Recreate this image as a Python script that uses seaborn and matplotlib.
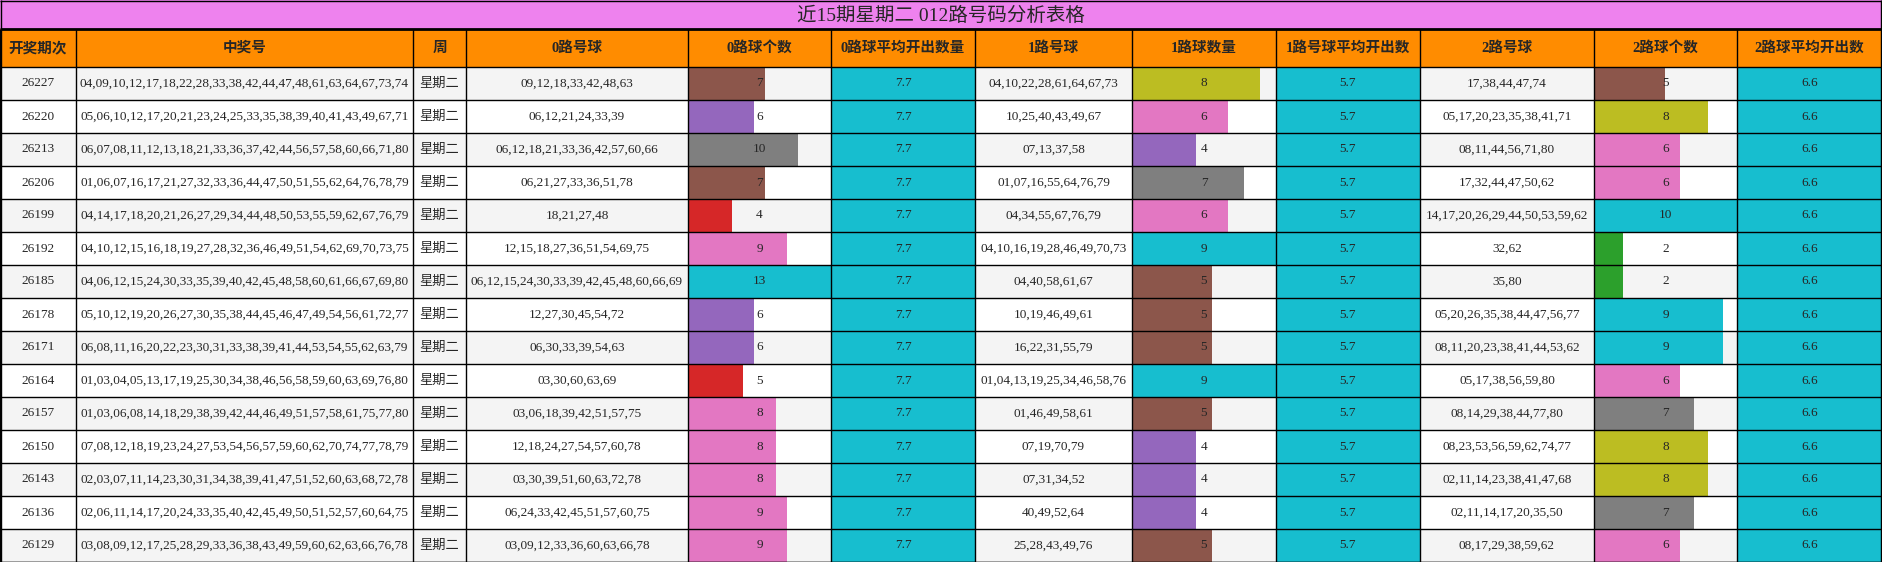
import matplotlib.pyplot as plt
import seaborn as sns
from matplotlib.patches import Rectangle

sns.set_theme(style="white")
plt.rcParams["font.family"] = ["Liberation Serif", "Noto Sans CJK SC", "DejaVu Sans"]

title = "近15期星期二 012路号码分析表格"
headers = ["开奖期次", "中奖号", "周", "0路号球", "0路球个数", "0路球平均开出数量",
           "1路号球", "1路球数量", "1路号球平均开出数", "2路号球", "2路球个数", "2路球平均开出数"]

issues = ["26227", "26220", "26213", "26206", "26199", "26192", "26185", "26178",
          "26171", "26164", "26157", "26150", "26143", "26136", "26129"]
draws = [
    "04,09,10,12,17,18,22,28,33,38,42,44,47,48,61,63,64,67,73,74",
    "05,06,10,12,17,20,21,23,24,25,33,35,38,39,40,41,43,49,67,71",
    "06,07,08,11,12,13,18,21,33,36,37,42,44,56,57,58,60,66,71,80",
    "01,06,07,16,17,21,27,32,33,36,44,47,50,51,55,62,64,76,78,79",
    "04,14,17,18,20,21,26,27,29,34,44,48,50,53,55,59,62,67,76,79",
    "04,10,12,15,16,18,19,27,28,32,36,46,49,51,54,62,69,70,73,75",
    "04,06,12,15,24,30,33,35,39,40,42,45,48,58,60,61,66,67,69,80",
    "05,10,12,19,20,26,27,30,35,38,44,45,46,47,49,54,56,61,72,77",
    "06,08,11,16,20,22,23,30,31,33,38,39,41,44,53,54,55,62,63,79",
    "01,03,04,05,13,17,19,25,30,34,38,46,56,58,59,60,63,69,76,80",
    "01,03,06,08,14,18,29,38,39,42,44,46,49,51,57,58,61,75,77,80",
    "07,08,12,18,19,23,24,27,53,54,56,57,59,60,62,70,74,77,78,79",
    "02,03,07,11,14,23,30,31,34,38,39,41,47,51,52,60,63,68,72,78",
    "02,06,11,14,17,20,24,33,35,40,42,45,49,50,51,52,57,60,64,75",
    "03,08,09,12,17,25,28,29,33,36,38,43,49,59,60,62,63,66,76,78",
]
weekday = ["星期二"] * 15
road0 = ["09,12,18,33,42,48,63", "06,12,21,24,33,39", "06,12,18,21,33,36,42,57,60,66",
         "06,21,27,33,36,51,78", "18,21,27,48", "12,15,18,27,36,51,54,69,75",
         "06,12,15,24,30,33,39,42,45,48,60,66,69", "12,27,30,45,54,72", "06,30,33,39,54,63",
         "03,30,60,63,69", "03,06,18,39,42,51,57,75", "12,18,24,27,54,57,60,78",
         "03,30,39,51,60,63,72,78", "06,24,33,42,45,51,57,60,75", "03,09,12,33,36,60,63,66,78"]
road1 = ["04,10,22,28,61,64,67,73", "10,25,40,43,49,67", "07,13,37,58", "01,07,16,55,64,76,79",
         "04,34,55,67,76,79", "04,10,16,19,28,46,49,70,73", "04,40,58,61,67", "10,19,46,49,61",
         "16,22,31,55,79", "01,04,13,19,25,34,46,58,76", "01,46,49,58,61", "07,19,70,79",
         "07,31,34,52", "40,49,52,64", "25,28,43,49,76"]
road2 = ["17,38,44,47,74", "05,17,20,23,35,38,41,71", "08,11,44,56,71,80", "17,32,44,47,50,62",
         "14,17,20,26,29,44,50,53,59,62", "32,62", "35,80", "05,20,26,35,38,44,47,56,77",
         "08,11,20,23,38,41,44,53,62", "05,17,38,56,59,80", "08,14,29,38,44,77,80",
         "08,23,53,56,59,62,74,77", "02,11,14,23,38,41,47,68", "02,11,14,17,20,35,50",
         "08,17,29,38,59,62"]
count0 = [7, 6, 10, 7, 4, 9, 13, 6, 6, 5, 8, 8, 8, 9, 9]
count1 = [8, 6, 4, 7, 6, 9, 5, 5, 5, 9, 5, 4, 4, 4, 5]
count2 = [5, 8, 6, 6, 10, 2, 2, 9, 9, 6, 7, 8, 8, 7, 6]
avg0, avg1, avg2 = "7.7", "5.7", "6.6"

col_edges = [0, 76, 413, 466, 688, 831, 975, 1132, 1276, 1420, 1594, 1737, 1882]
W, H = 1882, 562
title_h, head_h, row_h = 29, 38, 33

palette = sns.color_palette("tab10")
CYAN = "#17becf"
ORANGE = "#ff8c00"
VIOLET = "#ee82ee"

fig = plt.figure(figsize=(W / 100, H / 100), dpi=100)
ax = fig.add_axes([0, 0, 1, 1])
ax.set_xlim(0, W)
ax.set_ylim(H, 0)
ax.axis("off")

# title + header
ax.add_patch(Rectangle((0, 0), W, title_h, color=VIOLET, lw=0))
ax.text(W / 2, title_h / 2 + 1, title, ha="center", va="center", fontsize=14)
ax.add_patch(Rectangle((0, title_h), W, head_h, color=ORANGE, lw=0))
for i, h in enumerate(headers):
    cx = (col_edges[i] + col_edges[i + 1]) / 2
    ax.text(cx, title_h + head_h / 2, h, ha="center", va="center", fontsize=10.5, fontweight="bold")

top = title_h + head_h
bar_cols = {4: count0, 7: count1, 10: count2}
avg_cols = {5: avg0, 8: avg1, 11: avg2}
text_cols = {0: issues, 1: draws, 2: weekday, 3: road0, 6: road1, 9: road2}

for r in range(len(issues)):
    y0 = top + r * row_h
    bg = "#f4f4f4" if r % 2 == 0 else "white"
    ax.add_patch(Rectangle((0, y0), W, row_h, color=bg, lw=0))
    for c, vals in text_cols.items():
        cx = (col_edges[c] + col_edges[c + 1]) / 2
        ax.text(cx, y0 + row_h / 2, vals[r], ha="center", va="center", fontsize=9.5)
    for c, v in avg_cols.items():
        ax.add_patch(Rectangle((col_edges[c], y0), col_edges[c + 1] - col_edges[c], row_h, color=CYAN, lw=0))
        cx = (col_edges[c] + col_edges[c + 1]) / 2
        ax.text(cx, y0 + row_h / 2, v, ha="center", va="center", fontsize=9.5)

for c, vals in bar_cols.items():
    left, cw = col_edges[c], col_edges[c + 1] - col_edges[c]
    vmax = max(vals)
    ys = [top + r * row_h + row_h / 2 for r in range(len(vals))]
    widths = [v / vmax * cw for v in vals]
    colors = [palette[min(int(v / vmax * 10), 9)] for v in vals]
    ax.barh(ys, widths, height=row_h, left=left, color=colors, lw=0)
    for y, v in zip(ys, vals):
        ax.text(left + cw / 2, y, str(v), ha="center", va="center", fontsize=9.5)

# grid lines
bottom = top + row_h * len(issues)
for x in col_edges:
    ax.vlines(x, title_h, bottom, color="black", lw=1)
ax.vlines([0.5, W - 0.5], 0, bottom, color="black", lw=1)
for r in range(len(issues) + 1):
    ax.hlines(top + r * row_h, 0, W, color="black", lw=1)
ax.hlines(0.5, 0, W, color="black", lw=1)
ax.hlines(title_h, 0, W, color="black", lw=2)
ax.hlines(bottom - 0.5, 0, W, color="black", lw=1)

fig.savefig("out.png", dpi=100)
